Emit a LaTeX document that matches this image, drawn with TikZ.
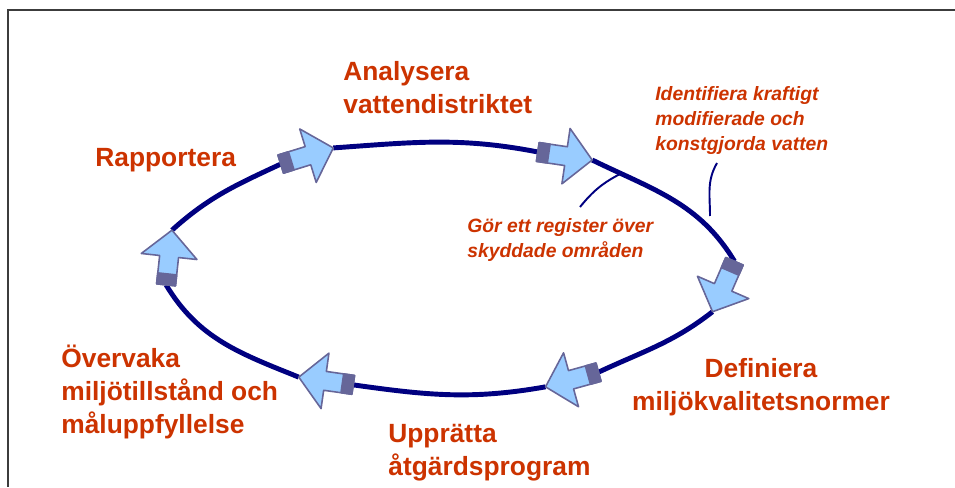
\documentclass[tikz,border=0pt]{standalone}
\usepackage{fontspec}
\setmainfont{Liberation Sans}
\usetikzlibrary{backgrounds}

\definecolor{labelred}{RGB}{204,51,0}
\definecolor{ringblue}{RGB}{0,0,128}
\definecolor{arrowfill}{RGB}{153,204,255}
\definecolor{arrowedge}{RGB}{102,102,153}
\definecolor{framegray}{RGB}{60,60,60}

\tikzset{
  ringarrow/.pic={
    \draw[arrowedge, fill=arrowfill, line width=0.9pt, line join=round]
      (-27.5,-9.5) -- (1,-9.5) -- (1,-28) -- (27.5,0) -- (1,28) -- (1,9.5) -- (-27.5,9.5) -- cycle;
    \draw[arrowedge, fill=arrowedge, line width=0.9pt, line join=round]
      (-27.5,-9.5) rectangle (-16.5,9.5);
    \coordinate (-tail) at (-27.5,0);
    \coordinate (-tip) at (27.5,0);
  }
}

\begin{document}
\begin{tikzpicture}[x=0.02cm, y=0.02cm,
  ringline/.style={draw=ringblue, line width=2.8pt},
  callout/.style={draw=ringblue, line width=1.1pt},
  steplabel/.style={text=labelred, inner sep=0pt, align=left,
    font=\fontsize{15}{18.7}\selectfont\bfseries},
  notelabel/.style={text=labelred, inner sep=0pt, align=left,
    font=\fontsize{11}{14.2}\selectfont\bfseries\itshape}]
\useasboundingbox (0,0) rectangle (955,487);

% frame
\draw[framegray, line width=1.1pt] (955,477) -- (8,477) -- (8,0);

% arrows round the cycle
\pic[rotate=17.1] (a1) at (307,331) {ringarrow};
\pic[rotate=-8.4] (a2) at (565,331) {ringarrow};
\pic[rotate=246.5] (a3) at (723.5,200.5) {ringarrow};
\pic[rotate=195.5] (a4) at (572,107.5) {ringarrow};
\pic[rotate=171.9] (a5) at (326,106) {ringarrow};
\pic[rotate=83.8] (a6) at (169,229.5) {ringarrow};

\begin{scope}[on background layer]
\draw[ringline] (a1-tip) to[out=4,in=169] (a2-tail)
  (a2-tip) to[out=-26,in=121] (a3-tail)
  (a3-tip) to[out=218,in=25] (a4-tail)
  (a4-tip) to[out=190,in=-8] (a5-tail)
  (a5-tip) to[out=158,in=-59] (a6-tail)
  (a6-tip) to[out=42,in=205] (a1-tail);
\end{scope}

% labels
\node[steplabel, anchor=north west] (analys) at (343,426) {Analysera\\vattendistriktet};
\node[steplabel, anchor=north west] (rapport) at (95,339) {Rapportera};
\node[steplabel, anchor=north, align=center] (definiera) at (761,129) {Definiera\\miljökvalitetsnormer};
\node[steplabel, anchor=north west] (upprata) at (388,63) {Upprätta\\åtgärdsprogram};
\node[steplabel, anchor=north west] (overvaka) at (61,142) {Övervaka\\miljötillstånd och\\måluppfyllelse};

\node[notelabel, anchor=north west] (ident) at (655,401) {Identifiera kraftigt\\modifierade och\\konstgjorda vatten};
\node[notelabel, anchor=north west] (register) at (467,269) {Gör ett register över\\skyddade områden};

% callouts
\coordinate (regfoot) at (580,280);
\coordinate (regtouch) at (622,314);
\draw[callout] (regfoot) to[bend left=12] (regtouch);
\coordinate (identfoot) at (717,324);
\coordinate (identtouch) at (710,271);
\draw[callout] (identfoot) to[out=-120,in=90] (identtouch);
\end{tikzpicture}
\end{document}
